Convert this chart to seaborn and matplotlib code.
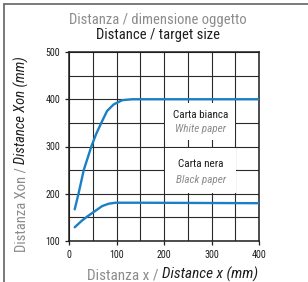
import pandas as pd
import matplotlib
matplotlib.use('Agg')
import matplotlib.pyplot as plt
from matplotlib.ticker import MultipleLocator
from matplotlib.lines import Line2D
from matplotlib.patches import Rectangle
import seaborn as sns

# values
white_x = [12, 20, 31, 40, 47, 57, 68, 80, 94, 112, 133, 150, 400]
white_y = [167, 200, 250, 278, 300, 326, 350, 375, 389, 398, 400, 400, 400]
black_x = [12, 27, 40, 50, 60, 70, 84, 98, 150, 400]
black_y = [129, 143, 153, 160, 167, 174, 179, 181, 181, 180]

x_ticks = [0, 100, 200, 300, 400]
y_ticks = [100, 200, 300, 400, 500]

labels_it = ['Carta bianca', 'Carta nera']
labels_en = ['White paper', 'Black paper']

title_it = 'Distanza / dimensione oggetto'
title_en = 'Distance / target size'
xlabel_it = 'Distanza x / '
xlabel_en = 'Distance x (mm)'
ylabel_it = 'Distanza Xon / '
ylabel_en = 'Distance Xon (mm)'

df = pd.concat([
    pd.DataFrame({'x': white_x, 'y': white_y, 'paper': 'white'}),
    pd.DataFrame({'x': black_x, 'y': black_y, 'paper': 'black'}),
])

sns.set_style('white')
plt.rcParams['font.family'] = ['Roboto Condensed', 'DejaVu Sans']

W, H = 308, 282
GRAY = '#8c8c8c'
DARK = '#1e1e1e'
BLUE = '#1a7fc4'


def px(x, y):
    return x / W, 1 - y / H


fig = plt.figure(figsize=(W / 100, H / 100), dpi=100)
ax = fig.add_axes([69 / W, 1 - 241 / H, 190 / W, 189 / H])

sns.lineplot(data=df, x='x', y='y', units='paper', estimator=None, sort=False,
             color=BLUE, linewidth=1.7, ax=ax, zorder=4)

ax.set_xlim(0, 400)
ax.set_ylim(100, 500)
ax.set_xticks(x_ticks)
ax.set_yticks(y_ticks)
ax.xaxis.set_minor_locator(MultipleLocator(50))
ax.yaxis.set_minor_locator(MultipleLocator(50))
ax.grid(True, which='both', color='#2a2a2a', linewidth=0.8, zorder=1)
ax.set_axisbelow(True)
ax.tick_params(which='major', direction='out', length=3, width=0.9, color=DARK,
               labelsize=7.2, labelcolor=DARK, pad=3.5, left=True, bottom=True)
ax.tick_params(which='minor', length=0)
for s in ax.spines.values():
    s.set_color(DARK)
    s.set_linewidth(1.1)
ax.set_xlabel('')
ax.set_ylabel('')

# white label boxes that hide the grid
ax.add_patch(Rectangle((203, 314), 146, 78, facecolor='white', edgecolor='none', zorder=2))
ax.add_patch(Rectangle((203, 201), 148, 96, facecolor='white', edgecolor='none', zorder=2))
ax.text(277, 367, labels_it[0], ha='center', va='center', fontsize=8, color=DARK, zorder=5)
ax.text(277, 337, labels_en[0], ha='center', va='center', fontsize=8, color=GRAY,
        style='italic', zorder=5)
ax.text(277, 262, labels_it[1], ha='center', va='center', fontsize=8, color=DARK, zorder=5)
ax.text(277, 230, labels_en[1], ha='center', va='center', fontsize=8, color=GRAY,
        style='italic', zorder=5)

# titles
fig.text(*px(158, 20), title_it, ha='center', va='center', fontsize=10.5, color=GRAY)
fig.text(*px(158, 35), title_en, ha='center', va='center', fontsize=10.5, color=DARK)

# axis labels in two styles
tx = fig.text(*px(87, 279), xlabel_it, ha='left', va='baseline', fontsize=11, color=GRAY)
ty = fig.text(*px(26, 252), ylabel_it, ha='left', va='baseline', fontsize=10.5, color=GRAY,
              rotation=90, rotation_mode='anchor')
fig.canvas.draw()
inv = fig.transFigure.inverted()
bx = tx.get_window_extent()
fig.text(inv.transform((bx.x1, 0))[0], 1 - 279 / H, xlabel_en, ha='left', va='baseline',
         fontsize=11, color=DARK, style='italic')
by = ty.get_window_extent()
fig.text(26 / W, inv.transform((0, by.y1))[1], ylabel_en, ha='left', va='baseline',
         fontsize=10.5, color=DARK, style='italic', rotation=90, rotation_mode='anchor')

# frame lines at the top and left of the picture
fig.add_artist(Line2D([4 / W, 1], [1 - 3.5 / H, 1 - 3.5 / H], color='#6e6e6e', linewidth=1.3))
fig.add_artist(Line2D([4 / W, 4 / W], [0, 1 - 3.5 / H], color='#6e6e6e', linewidth=1.3))

fig.savefig('out.png', dpi=100)
